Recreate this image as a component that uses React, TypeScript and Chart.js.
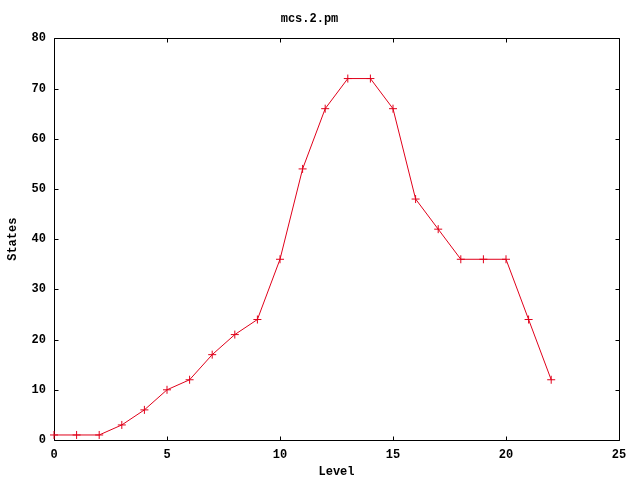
import React, { useEffect, useRef } from "react";
import { Chart, registerables } from "chart.js";

Chart.register(...registerables);

const levels = [0, 1, 2, 3, 4, 5, 6, 7, 8, 9, 10, 11, 12, 13, 14, 15, 16, 17, 18, 19, 20, 21, 22];
const states = [1, 1, 1, 3, 6, 10, 12, 17, 21, 24, 36, 54, 66, 72, 72, 66, 48, 42, 36, 36, 36, 24, 12];
const chartTitle = "mcs.2.pm";
const xTitle = "Level";
const yTitle = "States";

const FONT = "'Liberation Mono', 'DejaVu Sans Mono', monospace";
const RED = "#e0001a";

const framePlugin = {
  id: "gnuFrame",
  beforeDatasetsDraw(chart: any) {
    const { ctx, chartArea } = chart;
    const xs = chart.scales.x;
    const ys = chart.scales.y;
    const l = Math.round(chartArea.left) + 0.5;
    const r = Math.round(chartArea.right) + 0.5;
    const t = Math.round(chartArea.top) + 0.5;
    const b = Math.round(chartArea.bottom) + 0.5;
    ctx.save();
    ctx.strokeStyle = "#000";
    ctx.lineWidth = 1;
    ctx.beginPath();
    ctx.rect(l, t, r - l, b - t);
    const tl = 4;
    xs.ticks.forEach((tk: any) => {
      const x = Math.round(xs.getPixelForValue(tk.value)) + 0.5;
      ctx.moveTo(x, b);
      ctx.lineTo(x, b - tl);
      ctx.moveTo(x, t);
      ctx.lineTo(x, t + tl);
    });
    ys.ticks.forEach((tk: any) => {
      const y = Math.round(ys.getPixelForValue(tk.value)) + 0.5;
      ctx.moveTo(l, y);
      ctx.lineTo(l + tl, y);
      ctx.moveTo(r, y);
      ctx.lineTo(r - tl, y);
    });
    ctx.stroke();
    ctx.restore();
  },
};

export default function App() {
  const ref = useRef<HTMLCanvasElement | null>(null);
  useEffect(() => {
    if (!ref.current) return;
    const chart = new Chart(ref.current, {
      type: "line",
      data: {
        datasets: [
          {
            data: levels.map((l, i) => ({ x: l, y: states[i] })),
            borderColor: RED,
            backgroundColor: RED,
            borderWidth: 1,
            pointStyle: "cross",
            pointRadius: 4,
            pointBorderWidth: 1,
            pointBorderColor: RED,
            tension: 0,
            clip: false as any,
          },
        ],
      },
      options: {
        animation: false,
        responsive: false,
        layout: { padding: { left: 0, right: 21, top: 0, bottom: 0 } },
        plugins: {
          legend: { display: false },
          tooltip: { enabled: false },
          title: {
            display: true,
            text: chartTitle,
            color: "#000",
            font: { family: FONT, size: 12, weight: "bold" },
            padding: { top: 12, bottom: 12 },
          },
        },
        scales: {
          x: {
            type: "linear",
            min: 0,
            max: 25,
            afterFit(scale: any) {
              scale.height = 40;
            },
            ticks: {
              stepSize: 5,
              color: "#000",
              padding: 8,
              font: { family: FONT, size: 12, weight: "bold" },
              maxRotation: 0,
            },
            grid: { display: false, drawTicks: false },
            border: { display: false },
            title: {
              display: true,
              text: xTitle,
              color: "#000",
              font: { family: FONT, size: 12, weight: "bold" },
              padding: { top: 0, bottom: 1 },
            },
          },
          y: {
            type: "linear",
            min: 0,
            max: 80,
            afterFit(scale: any) {
              scale.width = 54;
            },
            ticks: {
              stepSize: 10,
              color: "#000",
              padding: 8,
              font: { family: FONT, size: 12, weight: "bold" },
            },
            grid: { display: false, drawTicks: false },
            border: { display: false },
            title: {
              display: true,
              text: yTitle,
              color: "#000",
              font: { family: FONT, size: 12, weight: "bold" },
              padding: { top: 6, bottom: 0 },
            },
          },
        },
      },
      plugins: [framePlugin],
    });
    return () => chart.destroy();
  }, []);
  return (
    <div style={{ position: "absolute", left: 0, top: 0, width: 640, height: 480, background: "#fff" }}>
      <canvas ref={ref} width={640} height={480} />
    </div>
  );
}
